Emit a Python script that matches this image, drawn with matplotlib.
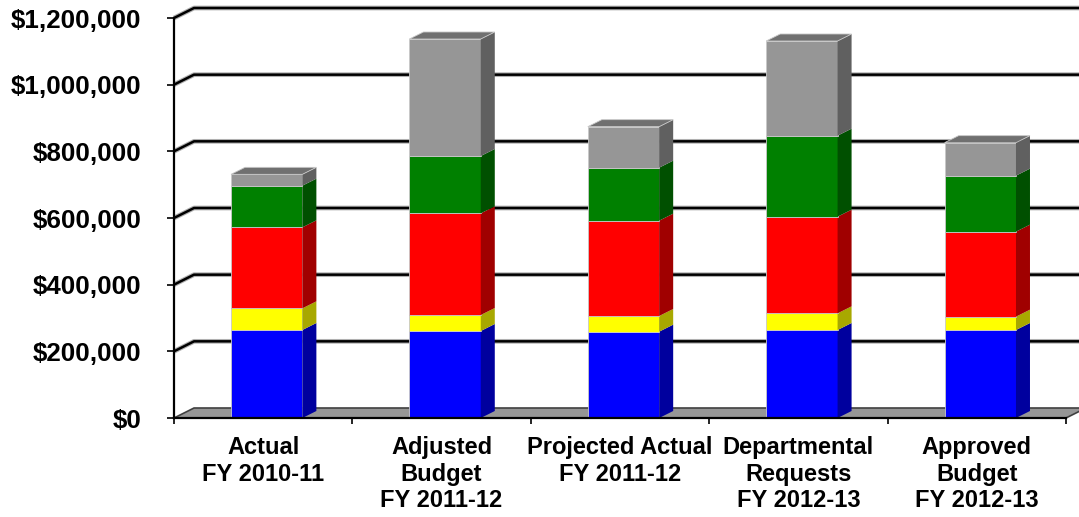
import numpy as np
import matplotlib.pyplot as plt
from matplotlib.ticker import FuncFormatter

plt.rcParams['font.family'] = ['Liberation Sans', 'DejaVu Sans']

categories = [
    "Actual\nFY 2010-11",
    "Adjusted\nBudget\nFY 2011-12",
    "Projected Actual\nFY 2011-12",
    "Departmental\nRequests\nFY 2012-13",
    "Approved\nBudget\nFY 2012-13",
]

# stacked segments, bottom to top
blue = [264000, 261000, 259000, 264000, 264000]
yellow = [65000, 48000, 47000, 50000, 40000]
red = [243000, 305000, 286000, 290000, 255000]
green = [125000, 172000, 159000, 243000, 168000]
gray = [34000, 351000, 123000, 284000, 99000]

series = [blue, yellow, red, green, gray]
front_colors = ["#0000FF", "#FFFF00", "#FF0000", "#008000", "#969696"]
side_colors = ["#00009E", "#A8A800", "#A00000", "#005000", "#606060"]
top_color = "#707070"

W, H = 1079, 517
fig = plt.figure(figsize=(W / 100, H / 100), dpi=100)
ax = fig.add_axes([174 / W, 99 / H, 892 / W, 400 / H])

ymax = 1200000
ax.set_xlim(-0.5, 4.5)
ax.set_ylim(0, ymax)

# pixel depth offsets converted to data units
px_x = 5 / 892
px_y = ymax / 400
wall_dx, wall_dy = 20 * px_x, 10 * px_y
bar_dx, bar_dy = 14 * px_x, 7 * px_y

x = np.arange(len(categories)) + 3.5 * px_x
width = 0.4

# floor
fx = [-0.5, 4.5, 4.5 + wall_dx, -0.5 + wall_dx]
fy = [0, 0, wall_dy, wall_dy]
ax.fill(fx, fy, color="#969696", ec="#404040", lw=1.2, zorder=1, clip_on=False)

# back wall gridlines
yticks = np.arange(0, ymax + 1, 200000)
for yt in yticks[1:]:
    ax.plot([-0.5, -0.5 + wall_dx, 5.0], [yt, yt + wall_dy, yt + wall_dy],
            color="#B0B0B0", lw=3.4, zorder=1, clip_on=False, solid_capstyle="butt")
    ax.plot([-0.5, -0.5 + wall_dx, 5.0], [yt, yt + wall_dy, yt + wall_dy],
            color="black", lw=1.8, zorder=1, clip_on=False, solid_capstyle="butt")

# stacked bars with side and top faces
bottom = np.zeros(len(categories))
for vals, fc, sc in zip(series, front_colors, side_colors):
    vals = np.array(vals, dtype=float)
    ax.bar(x, vals, width=width, bottom=bottom, color=fc, ec="#C8C8C8",
           lw=0.6, zorder=3)
    for xi, b, v in zip(x, bottom, vals):
        xr = xi + width / 2
        ax.fill([xr, xr + bar_dx, xr + bar_dx, xr],
                [b, b + bar_dy, b + v + bar_dy, b + v],
                color=sc, lw=0, zorder=3, clip_on=False)
    bottom = bottom + vals

for xi, t in zip(x, bottom):
    xl, xr = xi - width / 2, xi + width / 2
    ax.fill([xl, xr, xr + bar_dx, xl + bar_dx],
            [t, t, t + bar_dy, t + bar_dy],
            color=top_color, ec="#C8C8C8", lw=0.6, zorder=3, clip_on=False)

for s in ["top", "right"]:
    ax.spines[s].set_visible(False)
ax.spines["left"].set_linewidth(1.6)
ax.spines["bottom"].set_linewidth(1.6)
ax.spines["left"].set_zorder(4)
ax.spines["bottom"].set_zorder(4)

ax.set_yticks(yticks)
ax.yaxis.set_major_formatter(FuncFormatter(lambda v, p: "${:,.0f}".format(v)))
ax.tick_params(axis="y", length=5, width=1.2, pad=18.5, labelsize=18.7)
for lab in ax.get_yticklabels():
    lab.set_fontweight("bold")

ax.set_xticks(np.arange(-0.5, 4.6, 1.0))
ax.set_xticklabels([])
ax.set_xticks(np.arange(len(categories)), minor=True)
ax.set_xticklabels(categories, minor=True, fontsize=17, fontweight="bold",
                   linespacing=1.2)
ax.tick_params(axis="x", which="major", length=4, width=1.2)
ax.tick_params(axis="x", which="minor", length=0, pad=13)

fig.savefig("out.png", dpi=100)
